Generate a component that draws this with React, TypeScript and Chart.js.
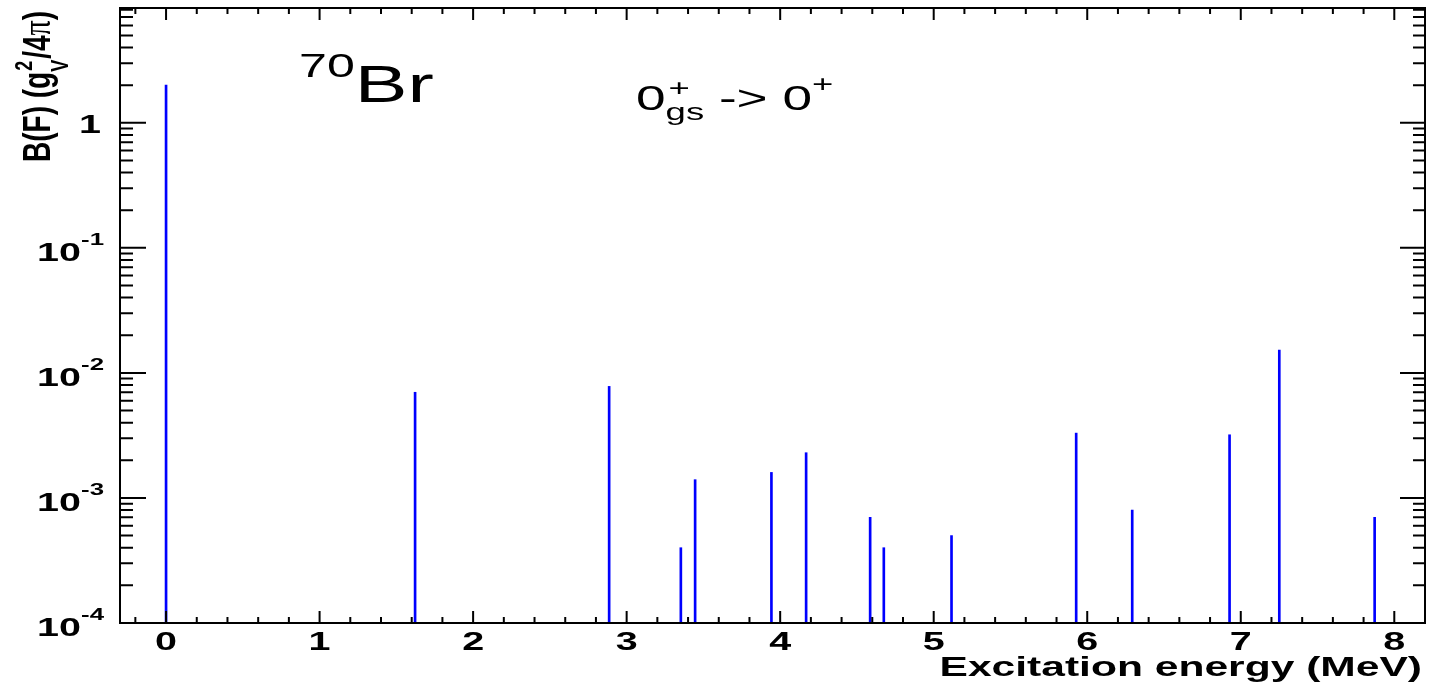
import React, { useEffect, useRef } from "react";
import { Chart, registerables } from "chart.js";

Chart.register(...registerables);

// Excitation energies (MeV) and B(F) strengths (g_V^2/4pi)
const energies = [0, 1.622, 2.886, 3.353, 3.446, 3.943, 4.169, 4.586, 4.675, 5.116, 5.928, 6.293, 6.927, 7.251, 7.872];
const strengths = [2.0, 0.007, 0.0078, 0.0004, 0.0014, 0.0016, 0.0023, 0.0007, 0.0004, 0.0005, 0.0033, 0.0008, 0.0032, 0.0152, 0.0007];

const xTickValues = [0, 1, 2, 3, 4, 5, 6, 7, 8];
const yDecadeExponents = [0, -1, -2, -3, -4];
const xMin = -0.3;
const xMax = 8.2;
const yMin = 1e-4;
const yMax = 8.28;

const SANS = '"Liberation Sans", Arial, Helvetica, sans-serif';
const SX = 1.52; // horizontal stretch of the original rendering

function measure(ctx: CanvasRenderingContext2D, s: string, size: number, bold: boolean, family = SANS, sx = SX) {
  ctx.font = `${bold ? "bold " : ""}${size}px ${family}`;
  return ctx.measureText(s).width * sx;
}

function text(
  ctx: CanvasRenderingContext2D,
  s: string,
  x: number,
  y: number,
  size: number,
  bold: boolean,
  align: CanvasTextAlign = "left",
  family = SANS,
  sx = SX
) {
  ctx.save();
  ctx.translate(x, y);
  ctx.scale(sx, 1);
  ctx.font = `${bold ? "bold " : ""}${size}px ${family}`;
  ctx.textAlign = align;
  ctx.textBaseline = "alphabetic";
  ctx.fillStyle = "#000";
  ctx.fillText(s, 0, 0);
  ctx.restore();
}

const rootStyle = {
  id: "rootStyle",
  afterDraw(chart: any) {
    const { ctx, chartArea: a } = chart;
    const xs = chart.scales.x;
    const ys = chart.scales.y;
    ctx.save();
    ctx.strokeStyle = "#000";
    ctx.lineWidth = 2;
    ctx.lineCap = "butt";

    // x ticks (bottom and top)
    ctx.beginPath();
    for (let i = -1; i <= 41; i++) {
      const v = i * 0.2;
      if (v <= xMin + 1e-9 || v >= xMax - 1e-9) continue;
      const px = xs.getPixelForValue(v);
      const major = i % 5 === 0;
      const len = major ? 12 : 6;
      ctx.moveTo(px, a.bottom);
      ctx.lineTo(px, a.bottom - len);
      ctx.moveTo(px, a.top);
      ctx.lineTo(px, a.top + len);
    }
    ctx.stroke();

    // y ticks (left and right), log scale
    ctx.beginPath();
    for (let e = -4; e <= 0; e++) {
      for (let k = 1; k <= 9; k++) {
        const v = k * Math.pow(10, e);
        if (v < yMin - 1e-12 || v > yMax) continue;
        const py = ys.getPixelForValue(v);
        const major = k === 1;
        ctx.moveTo(a.left, py);
        ctx.lineTo(a.left + (major ? 26 : 13), py);
        ctx.moveTo(a.right, py);
        ctx.lineTo(a.right - (major ? 25 : 12), py);
      }
    }
    ctx.stroke();

    // frame
    ctx.strokeRect(a.left, a.top, a.right - a.left, a.bottom - a.top);

    // x tick labels
    for (const v of xTickValues) {
      const px = xs.getPixelForValue(v);
      text(ctx, String(v), px, a.bottom + 27, 26, true, "center");
    }

    // y tick labels
    for (const e of yDecadeExponents) {
      const py = ys.getPixelForValue(Math.pow(10, e));
      if (e === 0) {
        text(ctx, "1", 101, py + 10, 26, true, "right");
      } else {
        const sup = String(e);
        const w2 = measure(ctx, sup, 17, true);
        const w1 = measure(ctx, "10", 26, true);
        const supX = 104 - w2;
        text(ctx, "10", supX - w1, py + 13, 26, true);
        text(ctx, sup, supX, py - 3, 17, true);
      }
    }

    // x axis title
    text(ctx, "Excitation energy (MeV)", 1422, a.bottom + 53, 28, true, "right");

    // y axis title (rotated)
    ctx.save();
    ctx.translate(50, 162);
    ctx.rotate(-Math.PI / 2);
    ctx.scale(1, 1.38);
    ctx.fillStyle = "#000";
    ctx.textBaseline = "alphabetic";
    ctx.textAlign = "left";
    let cx = 0;
    ctx.font = `bold 28px ${SANS}`;
    const part1 = "B(F) (g";
    ctx.fillText(part1, cx, 0);
    cx += ctx.measureText(part1).width;
    ctx.font = `bold 18px ${SANS}`;
    ctx.fillText("2", cx + 1, -13);
    const w2 = ctx.measureText("2").width;
    ctx.fillText("V", cx, 13);
    const wv = ctx.measureText("V").width;
    cx += Math.max(w2, wv) + 1;
    ctx.font = `bold 28px ${SANS}`;
    ctx.fillText("/4", cx, 0);
    cx += ctx.measureText("/4").width;
    ctx.font = `30px "Liberation Serif", "DejaVu Serif", serif`;
    ctx.fillText("π", cx, 0);
    cx += ctx.measureText("π").width;
    ctx.font = `bold 28px ${SANS}`;
    ctx.fillText(")", cx, 0);
    ctx.restore();

    // nucleus label
    const w70 = measure(ctx, "70", 33, false);
    text(ctx, "70", 299, 77, 33, false);
    text(ctx, "Br", 299 + w70, 102, 52, false);

    // transition label
    let tx = 636;
    text(ctx, "0", tx, 110, 35, false);
    tx += measure(ctx, "0", 35, false);
    text(ctx, "+", tx + 3, 96, 24, false);
    text(ctx, "gs", tx, 120, 24, false);
    tx += Math.max(measure(ctx, "gs", 24, false), measure(ctx, "+", 24, false));
    const rest = " -> 0";
    text(ctx, rest, tx, 110, 35, false);
    tx += measure(ctx, rest, 35, false);
    text(ctx, "+", tx, 92, 24, false);

    ctx.restore();
  },
};

export default function App() {
  const canvasRef = useRef<HTMLCanvasElement | null>(null);

  useEffect(() => {
    const canvas = canvasRef.current;
    if (!canvas) return;
    const points = energies.map((e, i) => ({ x: e, y: strengths[i] }));
    const chart = new Chart(canvas, {
      type: "bar",
      data: {
        datasets: [
          {
            data: points as any,
            backgroundColor: "#0000ff",
            borderWidth: 0,
            barThickness: 2,
            grouped: false,
          } as any,
        ],
      },
      options: {
        animation: false,
        responsive: false,
        devicePixelRatio: 1,
        layout: { padding: { left: 120, top: 8, right: 5, bottom: 68 } },
        plugins: {
          legend: { display: false },
          tooltip: { enabled: false },
        },
        scales: {
          x: { type: "linear", min: xMin, max: xMax, display: false, offset: false },
          y: { type: "logarithmic", min: yMin, max: yMax, display: false },
        },
      },
      plugins: [rootStyle],
    });
    return () => chart.destroy();
  }, []);

  return (
    <div style={{ position: "absolute", left: 0, top: 0, width: 1430, height: 691, background: "#fff" }}>
      <canvas ref={canvasRef} width={1430} height={691} style={{ display: "block" }} />
    </div>
  );
}
